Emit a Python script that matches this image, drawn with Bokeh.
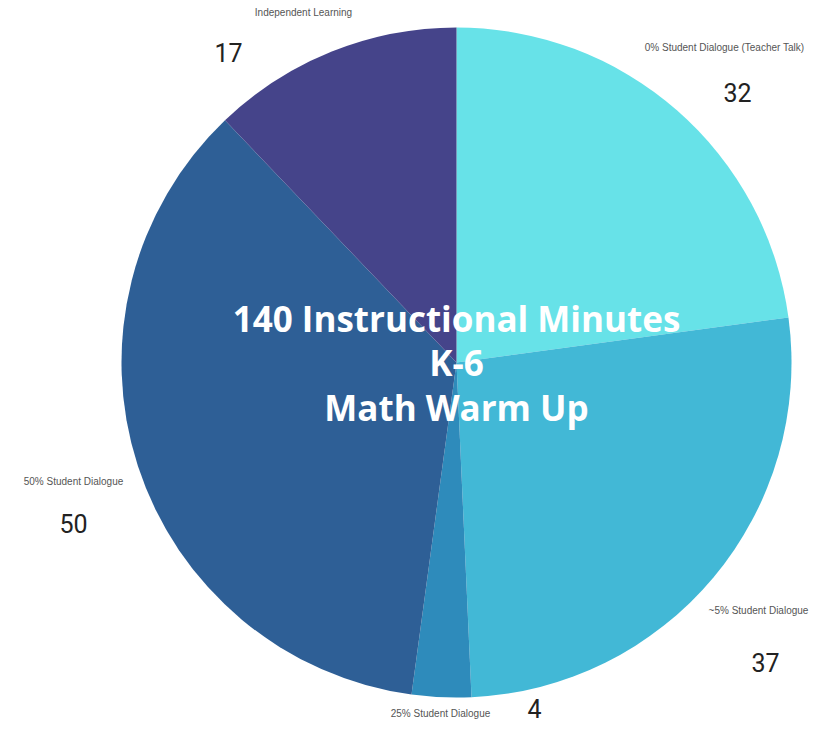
import math
from bokeh.plotting import figure
from bokeh.models import Range1d
from bokeh.core.properties import value
from bokeh.embed import file_html
from bokeh.resources import INLINE

categories = ["0% Student Dialogue (Teacher Talk)", "~5% Student Dialogue",
              "25% Student Dialogue", "50% Student Dialogue", "Independent Learning"]
minutes = [32, 37, 4, 50, 17]
colors = ["#67e2e8", "#42b8d6", "#2e8bbb", "#2e5f96", "#45448a"]
title_lines = ["140 Instructional Minutes", "K-6", "Math Warm Up"]

# label anchor positions (y measured from top of picture)
cat_label_pos = [(724, 47), (758, 610), (440, 713), (73, 481), (303, 12)]
num_label_pos = [(737, 92), (765, 662), (534, 708), (73, 523), (228, 52)]

W, H = 823, 723
p = figure(width=W, height=H, output_backend="svg", toolbar_location=None,
           x_range=Range1d(0, W), y_range=Range1d(0, H),
           min_border=0, outline_line_color=None)
p.axis.visible = False
p.grid.visible = False
p.background_fill_color = "white"
p.border_fill_color = "white"

def fy(y):
    return H - y

cx, cy, r = 456, fy(362), 335
total = sum(minutes)
cum = 0
starts, ends = [], []
for m in minutes:
    starts.append(math.pi / 2 - cum / total * 2 * math.pi)
    cum += m
    ends.append(math.pi / 2 - cum / total * 2 * math.pi)

p.wedge(x=[cx] * len(minutes), y=[cy] * len(minutes), radius=r,
        start_angle=starts, end_angle=ends, direction="clock",
        fill_color=colors, line_color=None)

p.text(x=[q[0] for q in cat_label_pos], y=[fy(q[1]) for q in cat_label_pos],
       text=categories, text_font=value("Liberation Sans"), text_font_size="10px",
       text_color="#555555", text_align="center", text_baseline="middle")
p.text(x=[q[0] for q in num_label_pos], y=[fy(q[1]) for q in num_label_pos],
       text=[str(m) for m in minutes], text_font=value("Roboto"), text_font_size="25px",
       text_color="#222222", text_align="center", text_baseline="middle")

title_y = [318, 362, 407]
p.text(x=[cx] * 3, y=[fy(t) for t in title_y], text=title_lines,
       text_font=value("Open Sans"), text_font_style="bold", text_font_size="35px",
       text_color="white", text_align="center", text_baseline="middle")

open("out.html", "w").write(file_html(p, INLINE))
